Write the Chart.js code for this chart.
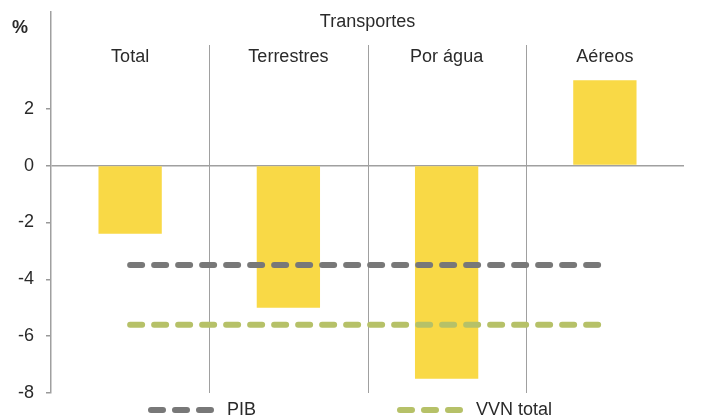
<!DOCTYPE html>
<html>
<head>
<meta charset="utf-8">
<script src="https://cdn.jsdelivr.net/npm/chart.js@4.4.1/dist/chart.umd.min.js"></script>
<style>
  html, body { margin: 0; padding: 0; background: #fff; }
  #wrap { width: 710px; height: 419px; }
</style>
</head>
<body>
<div id="wrap"><canvas id="myChart"></canvas></div>
<script>
// dados
const categories = ['Total', 'Terrestres', 'Por água', 'Aéreos'];
const transportes = [-2.4, -5.0, -7.5, 3.0];
const pib = [-3.5, -3.5, -3.5, -3.5];
const vvnTotal = [-5.6, -5.6, -5.6, -5.6];
const yTicks = [-8, -6, -4, -2, 0, 2];

const FONT = "'Liberation Sans', Arial, sans-serif";
const TEXT = '#2a2a2a';

// rótulos das categorias, divisórias, título e legenda
const decor = {
  id: 'decor',
  beforeDatasetsDraw(chart) {
    const {ctx, chartArea, scales: {x}} = chart;
    const step = x.getPixelForValue(1) - x.getPixelForValue(0);
    ctx.save();
    ctx.strokeStyle = '#a0a0a0';
    ctx.lineWidth = 1;
    for (let i = 0; i < categories.length - 1; i++) {
      const px = Math.round(x.getPixelForValue(i) + step / 2) + 0.5;
      ctx.beginPath();
      ctx.moveTo(px, chartArea.top + 33);
      ctx.lineTo(px, chartArea.bottom);
      ctx.stroke();
    }
    ctx.restore();
  },
  afterDraw(chart) {
    const {ctx, chartArea, scales: {x}} = chart;
    ctx.save();
    ctx.fillStyle = TEXT;
    ctx.textAlign = 'center';
    ctx.textBaseline = 'middle';
    ctx.font = '18px ' + FONT;
    categories.forEach((c, i) => {
      ctx.fillText(c, x.getPixelForValue(i), chartArea.top + 45);
    });
    ctx.fillText('Transportes', (x.getPixelForValue(1) + x.getPixelForValue(2)) / 2, chartArea.top + 10);

    ctx.font = 'bold 18px ' + FONT;
    ctx.fillText('%', 20, chartArea.top + 16);

    // legenda
    ctx.font = '18px ' + FONT;
    ctx.textAlign = 'left';
    const items = [{ds: 1, x: 151}, {ds: 2, x: 400}];
    const ly = 410;
    items.forEach(it => {
      const d = chart.data.datasets[it.ds];
      ctx.strokeStyle = d.borderColor;
      ctx.lineWidth = d.borderWidth;
      ctx.lineCap = 'round';
      ctx.setLineDash(d.borderDash);
      ctx.beginPath();
      ctx.moveTo(it.x, ly);
      ctx.lineTo(it.x + 60, ly);
      ctx.stroke();
      ctx.setLineDash([]);
      ctx.fillText(d.label, it.x + 76, ly);
    });
    ctx.restore();
  }
};

const ctxOne = document.getElementById('myChart');
new Chart(ctxOne, {
  type: 'bar',
  data: {
    labels: categories,
    datasets: [{
      label: 'Transportes',
      data: transportes,
      backgroundColor: '#f9d946',
      barPercentage: 0.4,
      categoryPercentage: 1,
      order: 2
    },
    {
      type: 'line',
      label: 'PIB',
      data: pib,
      borderColor: '#787878',
      borderWidth: 6,
      borderDash: [12, 12],
      borderCapStyle: 'round',
      pointRadius: 0,
      fill: false,
      order: 1
    },
    {
      type: 'line',
      label: 'VVN total',
      data: vvnTotal,
      borderColor: '#b6c168',
      borderWidth: 6,
      borderDash: [12, 12],
      borderCapStyle: 'round',
      pointRadius: 0,
      fill: false,
      order: 1
    }]
  },
  options: {
    responsive: true,
    maintainAspectRatio: false,
    animation: false,
    layout: {
      padding: { top: 12, left: 6, right: 26, bottom: 26 }
    },
    scales: {
      x: {
        display: false,
        offset: true
      },
      y: {
        min: -8,
        max: 5.4,
        afterBuildTicks(axis) {
          axis.ticks = yTicks.map(v => ({ value: v }));
        },
        afterFit(axis) {
          // o último rótulo (2) não fica no topo, não precisa de folga
          axis.paddingTop = 0;
        },
        ticks: {
          color: TEXT,
          padding: 12,
          font: { family: FONT, size: 18 }
        },
        grid: {
          color: c => (c.tick && c.tick.value === 0) ? '#a0a0a0' : 'rgba(0,0,0,0)',
          tickColor: '#999',
          tickLength: 5,
          lineWidth: 1.5
        },
        border: { color: '#a0a0a0', width: 1.5 }
      }
    },
    plugins: {
      legend: { display: false },
      tooltip: { enabled: false }
    }
  },
  plugins: [decor]
});
</script>
</body>
</html>
